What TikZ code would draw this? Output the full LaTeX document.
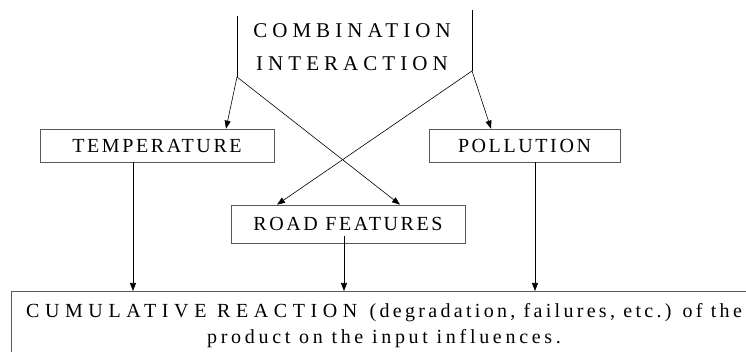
\documentclass[tikz,border=0pt]{standalone}
\usepackage{fontspec}
\setmainfont{Liberation Serif}
\newfontfamily\headserif[LetterSpace=24]{Liberation Serif}
\newfontfamily\boxserif[LetterSpace=13]{Liberation Serif}
\newfontfamily\capsserif[LetterSpace=28]{Liberation Serif}
\newfontfamily\lowserif[LetterSpace=16.5]{Liberation Serif}
\newfontfamily\tailserif[LetterSpace=18.5]{Liberation Serif}
\usetikzlibrary{arrows.meta}

\tikzset{
  frame/.style={draw=black!65, line width=0.7pt, inner sep=0pt,
    font=\boxserif\fontsize{20}{22}\selectfont},
  link/.style={draw=black, line width=0.6pt},
  arr/.style={link, -{Triangle[length=8pt,width=6pt]}},
}

\begin{document}
\begin{tikzpicture}[x=1pt, y=-1pt]
  \useasboundingbox (0,0) rectangle (746,352);

  % heading between the two feeder lines
  \node[anchor=north, inner sep=0pt, align=center,
        font=\headserif\fontsize{21}{33}\selectfont]
    (combo) at (352,23) {COMBINATION\\INTERACTION};

  \coordinate (ltop) at (237,16);
  \coordinate (lj)   at (237,77);
  \coordinate (rtop) at (472,10);
  \coordinate (rj)   at (472,71);

  % influence boxes
  \node[frame, minimum width=234pt, minimum height=33pt] (temp) at (157,145.5) {TEMPERATURE};
  \node[frame, minimum width=191pt, minimum height=33pt] (pol)  at (524.5,145.5) {POLLUTION};
  \node[frame, minimum width=234pt, minimum height=38pt] (road) at (348,224) {ROAD FEATURES};

  % cumulative reaction box (runs off the right and bottom edges)
  \coordinate (rbox) at (11,291);
  \coordinate (rboxr) at (746,291);
  \coordinate (rboxb) at (11,352);
  \node[anchor=north, inner sep=0pt, align=center,
        font=\lowserif\fontsize{20}{26}\selectfont]
    (react) at (384,303) {{\capsserif CUMULATIVE REACTION}\hspace{4pt} (degradation, failures, etc.) of the\\
                          {\tailserif product on the input influences.}};
  \draw[draw=black!65, line width=0.7pt] (rboxr) -- (rbox) -- (rboxb);

  % feeder lines and crossing arrows
  \draw[link] (ltop) -- (lj);
  \draw[link] (rtop) -- (rj);
  \draw[arr] (lj) -- ([xshift=69pt]temp.north);
  \draw[arr] (lj) -- ([xshift=52pt]road.north);
  \draw[arr] (rj) -- ([xshift=-71pt]road.north);
  \draw[arr] (rj) -- ([xshift=-33.5pt]pol.north);

  % outputs into the reaction box
  \draw[arr] ([xshift=-24pt]temp.south) -- ([xshift=-24pt]temp.south |- rbox);
  \draw[arr] ([xshift=-4pt,yshift=7pt]road.south) -- ([xshift=-4pt]road.south |- rbox);
  \draw[arr] ([xshift=10.5pt]pol.south) -- ([xshift=10.5pt]pol.south |- rbox);
\end{tikzpicture}
\end{document}
